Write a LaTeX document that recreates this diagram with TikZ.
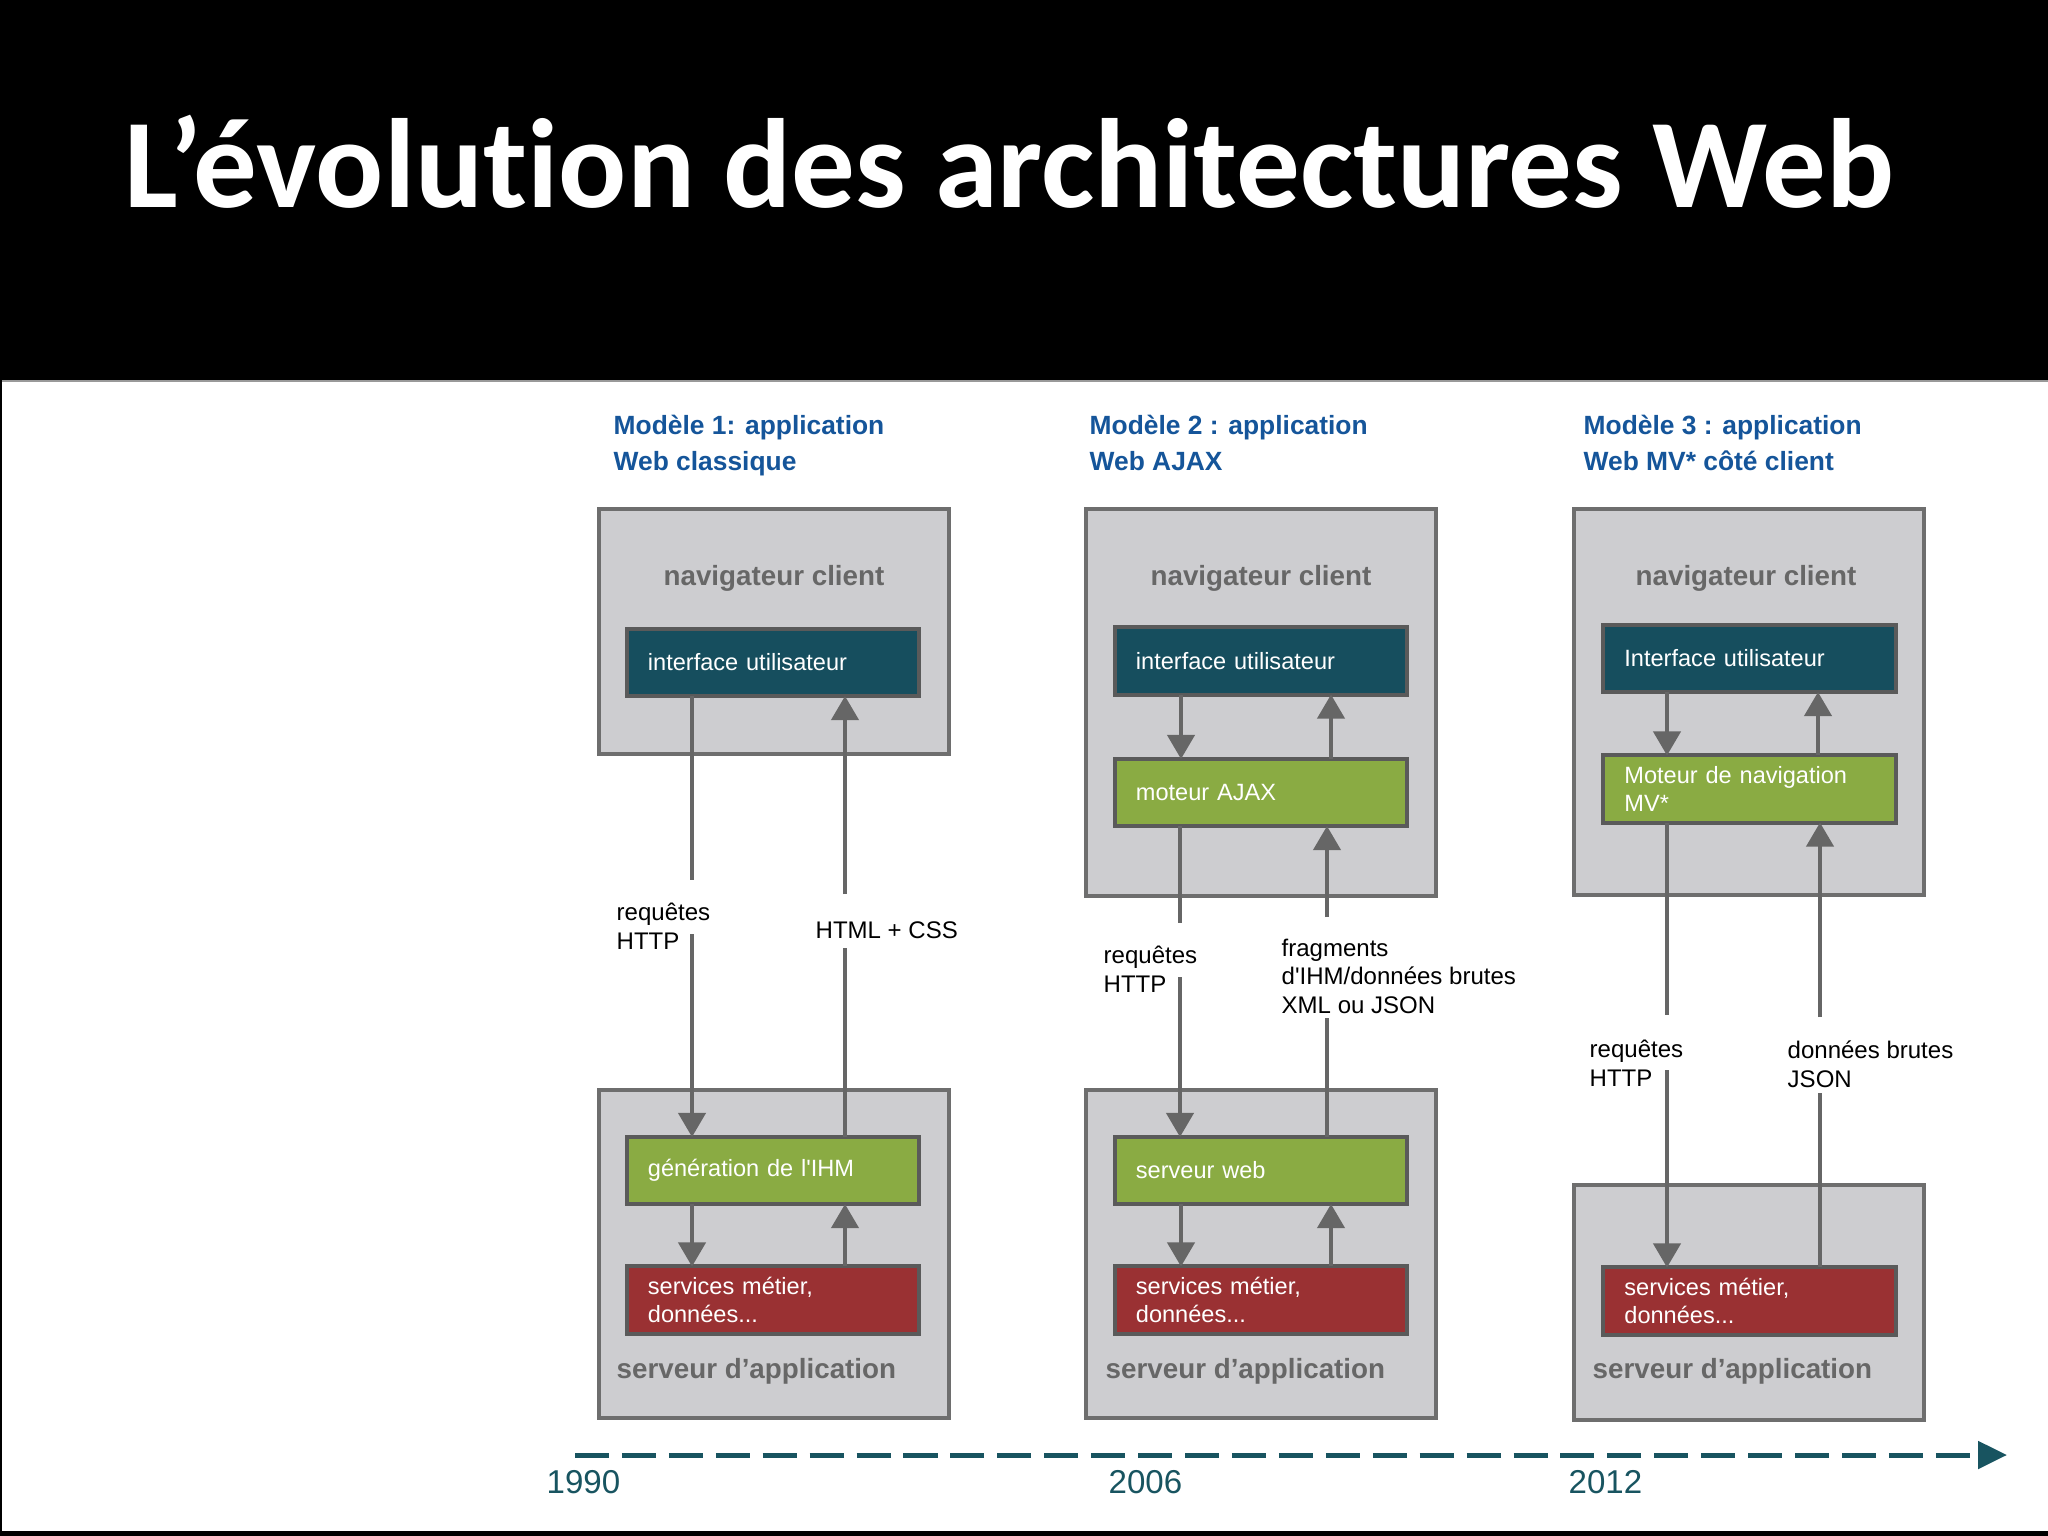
\documentclass[tikz,border=0pt]{standalone}
\usepackage{fontspec}
\setmainfont{Liberation Sans}
\newfontfamily\carlito{Carlito}[Ligatures={NoCommon}]
\usetikzlibrary{arrows.meta}
\definecolor{boxfill}{HTML}{CDCDD0}
\definecolor{boxline}{HTML}{6E6E6E}
\definecolor{uiteal}{HTML}{164E5E}
\definecolor{engreen}{HTML}{8AAB43}
\definecolor{svcred}{HTML}{9A3133}
\definecolor{inline}{HTML}{5A5A5A}
\definecolor{connc}{HTML}{666666}
\definecolor{titleblue}{HTML}{15559A}
\definecolor{lblgray}{HTML}{676767}
\definecolor{tlteal}{HTML}{185460}
\tikzset{
  bigbox/.style={draw=boxline, fill=boxfill, line width=0.045cm, minimum width=3.5cm, inner sep=0pt, outer sep=0pt},
  inbox/.style={draw=inline, line width=0.04cm, minimum width=2.92cm, minimum height=0.67cm, text width=2.5cm, align=left, inner sep=0pt, outer sep=0pt, text=white, font=\fontsize{6.7}{8}\selectfont},
  conn/.style={draw=connc, line width=0.04cm},
  carrow/.style={conn, -{Triangle[length=0.24cm, width=0.27cm]}},
  lbl/.style={font=\fontsize{6.83}{8}\selectfont, align=left, inner sep=0pt, anchor=base west},
  grayl/.style={font=\bfseries\fontsize{7.9}{9}\selectfont, text=lblgray, inner sep=0pt},
  mtitle/.style={font=\bfseries\fontsize{7.5}{10}\selectfont, text=titleblue, align=left, inner sep=0pt, anchor=base west},
  yearl/.style={font=\fontsize{9.4}{11}\selectfont, text=tlteal, inner sep=0pt, anchor=base west},
  timeline/.style={draw=tlteal, line width=0.05cm, dash pattern=on 0.34cm off 0.129cm, -{Triangle[length=0.29cm, width=0.27cm]}}
}
\begin{document}
\begin{tikzpicture}[x=0.01cm, y=-0.01cm]
\useasboundingbox (0,0) rectangle (2048,1536);
\fill[white] (0,0) rectangle (2048,1536);
% header
\fill[black] (0,0) rectangle (2048,380);
\draw[gray!80, line width=0.02cm] (0,381) -- (2048,381);
\fill[black] (0,380) rectangle (2,1536);
\fill[black] (0,1531) rectangle (2048,1536);
\node[font=\carlito\bfseries\fontsize{36.1}{40}\selectfont, text=white, anchor=base west, inner sep=0pt] (title) at (124,207) {L’évolution des architectures Web};

% ---------- Column 1 ----------
\node[mtitle] (m1) at (613,470) {Modèle 1: application\\Web classique};
\node[bigbox, minimum height=2.45cm] (cl1) at (774,631.5) {};
\node[bigbox, minimum height=3.28cm] (sv1) at (774,1254) {};
\node[grayl, anchor=base] (cl1t) at (774,585) {navigateur client};
\node[grayl, anchor=base west] (sv1t) at (616,1378) {serveur d’application};
\node[inbox, fill=uiteal] (ui1) at (773,662.5) {interface utilisateur};
\node[inbox, fill=engreen] (gen1) at (773,1170.5) {génération de l\textquotesingle IHM};
\node[inbox, fill=svcred] (svc1) at (773,1300) {services métier,\\données...};
\node[lbl] (l1a) at (616,949) {requêtes\\HTTP};
\node[lbl] (l1b) at (815,938) {HTML + CSS};
\coordinate (c1d) at (692,0);
\coordinate (c1u) at (845,0);
\coordinate (g1a) at (692,880);
\coordinate (g1b) at (692,934);
\coordinate (g1c) at (845,894);
\coordinate (g1e) at (845,948);
\draw[conn] (ui1.south -| c1d) -- (g1a);
\draw[carrow] (g1b) -- (gen1.north -| c1d);
\draw[conn] (gen1.north -| c1u) -- (g1e);
\draw[carrow] (g1c) -- (ui1.south -| c1u);
\draw[carrow] (gen1.south -| c1d) -- (svc1.north -| c1d);
\draw[carrow] (svc1.north -| c1u) -- (gen1.south -| c1u);

% ---------- Column 2 ----------
\node[mtitle] (m2) at (1089,470) {Modèle 2 : application\\Web AJAX};
\node[bigbox, minimum height=3.87cm] (cl2) at (1261,702.5) {};
\node[bigbox, minimum height=3.28cm] (sv2) at (1261,1254) {};
\node[grayl, anchor=base] (cl2t) at (1261,585) {navigateur client};
\node[grayl, anchor=base west] (sv2t) at (1105,1378) {serveur d’application};
\node[inbox, fill=uiteal] (ui2) at (1261,661) {interface utilisateur};
\node[inbox, fill=engreen] (mo2) at (1261,792.5) {moteur AJAX};
\node[inbox, fill=engreen] (web2) at (1261,1170.5) {serveur web};
\node[inbox, fill=svcred] (svc2) at (1261,1300) {services métier,\\données...};
\node[lbl] (l2a) at (1103,992) {requêtes\\HTTP};
\node[lbl] (l2b) at (1281,1013) {fragments\\d\textquotesingle IHM/données brutes\\XML ou JSON};
\coordinate (c2d) at (1181,0);
\coordinate (c2u) at (1331,0);
\coordinate (c2dl) at (1180,0);
\coordinate (c2ul) at (1327,0);
\coordinate (g2a) at (1180,923);
\coordinate (g2b) at (1180,977);
\coordinate (g2c) at (1327,917);
\coordinate (g2e) at (1327,1018);
\draw[carrow] (ui2.south -| c2d) -- (mo2.north -| c2d);
\draw[carrow] (mo2.north -| c2u) -- (ui2.south -| c2u);
\draw[conn] (mo2.south -| c2dl) -- (g2a);
\draw[carrow] (g2b) -- (web2.north -| c2dl);
\draw[conn] (web2.north -| c2ul) -- (g2e);
\draw[carrow] (g2c) -- (mo2.south -| c2ul);
\draw[carrow] (web2.south -| c2d) -- (svc2.north -| c2d);
\draw[carrow] (svc2.north -| c2u) -- (web2.south -| c2u);

% ---------- Column 3 ----------
\node[mtitle] (m3) at (1583,470) {Modèle 3 : application\\Web MV* côté client};
\node[bigbox, minimum height=3.86cm] (cl3) at (1749,702) {};
\node[bigbox, minimum height=2.35cm] (sv3) at (1749,1302.5) {};
\node[grayl, anchor=base] (cl3t) at (1746,585) {navigateur client};
\node[grayl, anchor=base west] (sv3t) at (1592,1378) {serveur d’application};
\node[inbox, fill=uiteal] (ui3) at (1749.5,658.5) {Interface utilisateur};
\node[inbox, fill=engreen] (mo3) at (1749.5,789) {Moteur de navigation\\MV*};
\node[inbox, fill=svcred] (svc3) at (1749.5,1301) {services métier,\\données...};
\node[lbl] (l3a) at (1589,1086) {requêtes\\HTTP};
\node[lbl] (l3b) at (1787,1087) {données brutes\\JSON};
\coordinate (c3d) at (1667,0);
\coordinate (c3u) at (1818,0);
\coordinate (c3ul) at (1820,0);
\coordinate (g3a) at (1667,1015);
\coordinate (g3b) at (1667,1070);
\coordinate (g3c) at (1820,1017);
\coordinate (g3e) at (1820,1093);
\draw[carrow] (ui3.south -| c3d) -- (mo3.north -| c3d);
\draw[carrow] (mo3.north -| c3u) -- (ui3.south -| c3u);
\draw[conn] (mo3.south -| c3d) -- (g3a);
\draw[carrow] (g3b) -- (svc3.north -| c3d);
\draw[conn] (svc3.north -| c3ul) -- (g3e);
\draw[carrow] (g3c) -- (mo3.south -| c3ul);

% ---------- timeline ----------
\coordinate (t0) at (575,1455);
\coordinate (t1) at (2007,1455);
\draw[timeline] (t0) -- (t1);
\node[yearl] (y1) at (546,1493) {1990};
\node[yearl] (y2) at (1108,1493) {2006};
\node[yearl] (y3) at (1568,1493) {2012};
\end{tikzpicture}
\end{document}
